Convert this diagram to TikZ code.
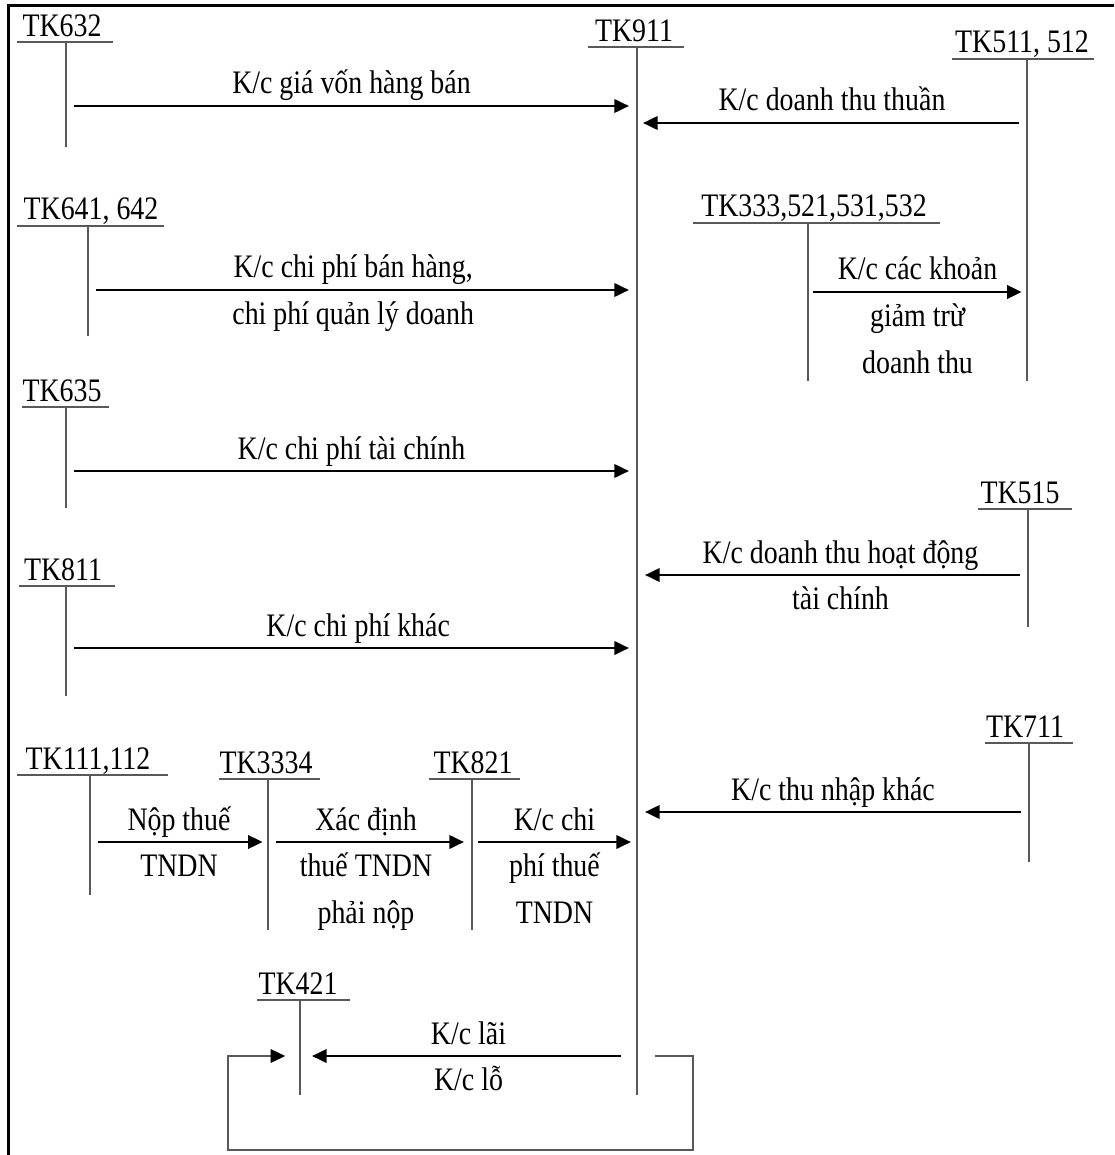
\documentclass[tikz,border=0pt]{standalone}
\usepackage{fontspec}
\setmainfont[FakeStretch=0.85]{Liberation Serif}
\usetikzlibrary{positioning,arrows.meta}

\begin{document}
\begin{tikzpicture}[
  x=0.75pt, y=-0.75pt,
  acc/.style={anchor=base, inner sep=0pt, font=\fontsize{24.6}{35}\selectfont},
  tline/.style={black!65, line width=1.5pt},
  arr/.style={-{Triangle[length=11pt,width=10pt,black]}, line width=2pt, shorten <=6pt, shorten >=6pt},
  txt/.style={font=\fontsize{24.6}{35}\selectfont, inner sep=0pt, align=center, anchor=base},
  up/.style={txt, yshift=9pt},
  down/.style={txt, yshift=-26pt},
  down2/.style={txt, yshift=-61pt}
]
\useasboundingbox (0,0) rectangle (1114,1155);
\draw[line width=2.25pt] (8,1155) -- (8,6) -- (1114,6);

% accounts: label, top line, vertical line
\node[acc] (tk911) at (634,42) {TK911};
\draw[tline] (588,47) -- (684,47);
\coordinate (v911) at (637,47);
\draw[tline] (v911) -- (637,1095);

\node[acc] (tk632) at (62,37) {TK632};
\draw[tline] (17,42) -- (113,42);
\coordinate (v632) at (66,42);
\draw[tline] (v632) -- (66,147);

\node[acc] (tk511) at (1022,53) {TK511, 512};
\draw[tline] (952,59) -- (1094,59);
\coordinate (v511) at (1027,59);
\draw[tline] (v511) -- (1027,381);

\node[acc] (tk641) at (91,220) {TK641, 642};
\draw[tline] (17,226) -- (164,226);
\coordinate (v641) at (88,226);
\draw[tline] (v641) -- (88,336);

\node[acc] (tk333) at (814,217) {TK333,521,531,532};
\draw[tline] (693,223) -- (940,223);
\coordinate (v333) at (808,223);
\draw[tline] (v333) -- (808,381);

\node[acc] (tk635) at (62,401) {TK635};
\draw[tline] (22,407) -- (109,407);
\coordinate (v635) at (66,407);
\draw[tline] (v635) -- (66,508);

\node[acc] (tk515) at (1020,503) {TK515};
\draw[tline] (978,509) -- (1072,509);
\coordinate (v515) at (1028,509);
\draw[tline] (v515) -- (1028,627);

\node[acc] (tk811) at (63,580) {TK811};
\draw[tline] (19,586) -- (115,586);
\coordinate (v811) at (66,586);
\draw[tline] (v811) -- (66,696);

\node[acc] (tk711) at (1025,737) {TK711};
\draw[tline] (985,743) -- (1073,743);
\coordinate (v711) at (1029,743);
\draw[tline] (v711) -- (1029,862);

\node[acc] (tk111) at (88,769) {TK111,112};
\draw[tline] (17,775) -- (168,775);
\coordinate (v111) at (90,775);
\draw[tline] (v111) -- (90,895);

\node[acc] (tk3334) at (266,773) {TK3334};
\draw[tline] (219,779) -- (320,779);
\coordinate (v3334) at (268,779);
\draw[tline] (v3334) -- (268,930);

\node[acc] (tk821) at (473,773) {TK821};
\draw[tline] (429,779) -- (520,779);
\coordinate (v821) at (472,779);
\draw[tline] (v821) -- (472,930);

\node[acc] (tk421) at (298,994) {TK421};
\draw[tline] (257,1000) -- (350,1000);
\coordinate (v421) at (300,1000);
\draw[tline] (v421) -- (300,1095);

% transfers into TK911
\draw[arr] (v632 |- 0,106) -- (v911 |- 0,106) node[midway, up] {K/c giá vốn hàng bán};
\draw[arr, shorten >=4.5pt] (v511 |- 0,123) -- (v911 |- 0,123) node[midway, up] {K/c doanh thu thuần};
\draw[arr] (v641 |- 0,290) -- (v911 |- 0,290)
  node[midway, up, xshift=-7pt] {K/c chi phí bán hàng,} node[midway, down, xshift=-7pt] {chi phí quản lý doanh};
\draw[arr, shorten <=4pt, shorten >=4pt] (v333 |- 0,292) -- (v511 |- 0,292)
  node[midway, up] {K/c các khoản} node[midway, down2] {giảm trừ\\doanh thu};
\draw[arr] (v635 |- 0,471) -- (v911 |- 0,471) node[midway, up] {K/c chi phí tài chính};
\draw[arr] (v515 |- 0,575) -- (v911 |- 0,575)
  node[midway, up, xshift=6pt] {K/c doanh thu hoạt động} node[midway, down, xshift=6pt] {tài chính};
\draw[arr] (v811 |- 0,648) -- (v911 |- 0,648) node[midway, up, xshift=5pt] {K/c chi phí khác};
\draw[arr] (v711 |- 0,812) -- (v911 |- 0,812) node[midway, up] {K/c thu nhập khác};

% tax chain
\draw[arr, shorten >=4pt] (v111 |- 0,842) -- (v3334 |- 0,842)
  node[midway, up] {Nộp thuế} node[midway, down] {TNDN};
\draw[arr] (v3334 |- 0,842) -- (v821 |- 0,842)
  node[midway, up, xshift=-3pt] {Xác định} node[midway, down2, xshift=-3pt] {thuế TNDN\\phải nộp};
\draw[arr, shorten <=4.5pt, shorten >=4.5pt] (v821 |- 0,842) -- (v911 |- 0,842)
  node[midway, up] {K/c chi} node[midway, down2] {phí thuế\\TNDN};

% result
\draw[arr, shorten <=12pt, shorten >=9pt] (v911 |- 0,1056) -- (v421 |- 0,1056)
  node[midway, up] {K/c lãi} node[midway, down] {K/c lỗ};
\coordinate (loopstart) at (655,1056);
\draw[arr, tline, shorten <=0pt, shorten >=11pt] (loopstart) -| (693,1150) -| (228,1056) -- (v421 |- 0,1056);
\end{tikzpicture}
\end{document}
